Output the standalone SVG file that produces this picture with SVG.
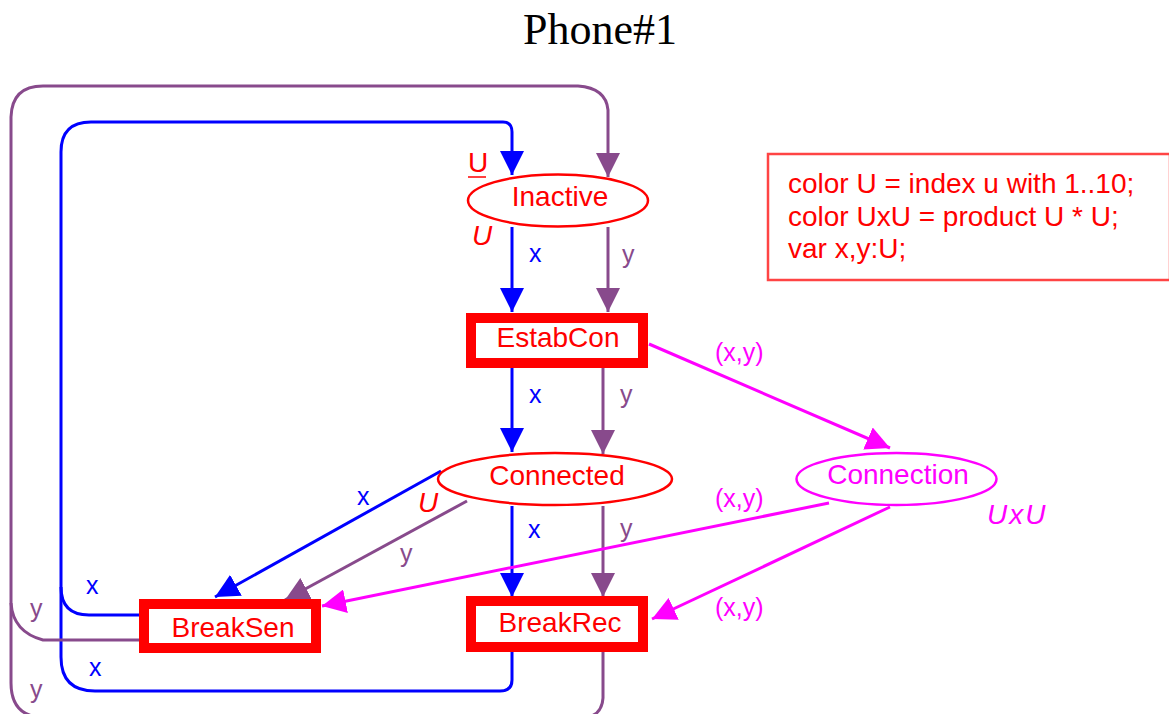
<svg xmlns="http://www.w3.org/2000/svg" width="1169" height="714" viewBox="0 0 1169 714">
<style>
.node text{font-family:"Liberation Sans",Arial,sans-serif;font-size:28px;fill:#ff0000;text-anchor:middle}
.place{fill:#fff;stroke:#ff0000;stroke-width:2.5}
.trans{fill:#fff;stroke:#ff0000;stroke-width:10}
.lbl{font-family:"Liberation Sans",Arial,sans-serif;font-size:25px}
.bl{fill:none;stroke:#0000ff;stroke-width:3}
.pu{fill:none;stroke:#884a8c;stroke-width:3}
.mg{fill:none;stroke:#ff00ff;stroke-width:3}
.tb{fill:#0000ff}.tp{fill:#884a8c}.tm{fill:#ff00ff}
.ty{font-family:"Liberation Sans",Arial,sans-serif;font-size:24px;font-style:italic;fill:#ff0000}
</style>
<defs>
<marker id="ab" markerUnits="userSpaceOnUse" viewBox="0 0 24 24" refX="24" refY="12" markerWidth="24" markerHeight="24" orient="auto"><path d="M0,0 L24,12 L0,24 z" fill="#0000ff"/></marker>
<marker id="ap" markerUnits="userSpaceOnUse" viewBox="0 0 24 24" refX="24" refY="12" markerWidth="24" markerHeight="24" orient="auto"><path d="M0,0 L24,12 L0,24 z" fill="#884a8c"/></marker>
<marker id="am" markerUnits="userSpaceOnUse" viewBox="0 0 24 24" refX="24" refY="12" markerWidth="24" markerHeight="24" orient="auto"><path d="M0,0 L24,12 L0,24 z" fill="#ff00ff"/></marker>
</defs>
<rect width="1169" height="714" fill="#fff"/>
<text x="600" y="44" font-family="'Liberation Serif','Times New Roman',serif" font-size="44" text-anchor="middle" fill="#000">Phone#1</text>

<g id="declarations">
<rect x="768" y="154" width="402" height="126" fill="#fff" stroke="#ff4444" stroke-width="2.5"/>
<text font-family="'Liberation Sans',Arial,sans-serif" font-size="28" fill="#ff0000">
<tspan x="788" y="193">color U = index u with 1..10;</tspan>
<tspan x="788" y="226">color UxU = product U * U;</tspan>
<tspan x="788" y="258">var x,y:U;</tspan>
</text>
</g>

<g id="connectors">
<path class="bl" d="M139,615 H89 Q61,615 61,587 V152 Q61,122 91,122 H503 Q512,122 512,132 V175" marker-end="url(#ab)"/>
<path class="bl" d="M512,652 V680 Q512,691 500,691 H95 Q61,691 61,657 V587"/>
<path class="pu" d="M139,640 H43 Q13,632 11,603 V117 Q12,86 43,86 H578 Q606,88 608,110 V177" marker-end="url(#ap)"/>
<path class="pu" d="M603,652 V698 Q602,714 588,717 H37 Q11,713 11,683 V603"/>
<path class="bl" d="M512,227 V312" marker-end="url(#ab)"/>
<path class="pu" d="M608,227 V312" marker-end="url(#ap)"/>
<path class="bl" d="M512,368 V452" marker-end="url(#ab)"/>
<path class="pu" d="M603,368 V454" marker-end="url(#ap)"/>
<path class="bl" d="M512,506 V597" marker-end="url(#ab)"/>
<path class="pu" d="M603,506 V597" marker-end="url(#ap)"/>
<path class="bl" d="M441,471 L215,597" marker-end="url(#ab)"/>
<path class="pu" d="M467,501 L285,600" marker-end="url(#ap)"/>
<path class="mg" d="M649,344 L890,448" marker-end="url(#am)"/>
<path class="mg" d="M829,503 L322,606" marker-end="url(#am)"/>
<path class="mg" d="M890,507 L652,619" marker-end="url(#am)"/>
<text class="lbl tb" x="529" y="262">x</text>
<text class="lbl tp" x="622" y="263">y</text>
<text class="lbl tb" x="529" y="403">x</text>
<text class="lbl tp" x="620" y="403">y</text>
<text class="lbl tb" x="528" y="538">x</text>
<text class="lbl tp" x="620" y="537">y</text>
<text class="lbl tb" x="357" y="505">x</text>
<text class="lbl tp" x="400" y="562">y</text>
<text class="lbl tb" x="86" y="594">x</text>
<text class="lbl tb" x="89" y="676">x</text>
<text class="lbl tp" x="30" y="617">y</text>
<text class="lbl tp" x="30" y="698">y</text>
<text class="lbl tm" x="715" y="361">(x,y)</text>
<text class="lbl tm" x="715" y="507">(x,y)</text>
<text class="lbl tm" x="715" y="616">(x,y)</text>
</g>

<g id="Inactive" class="node">
<ellipse class="place" cx="558" cy="200.5" rx="90" ry="26"/>
<text x="560" y="206">Inactive</text>
<text class="ty" x="468" y="172" style="font-style:normal;text-anchor:start">U</text>
<line x1="468" y1="177" x2="486" y2="177" stroke="#ff0000" stroke-width="1.5"/>
<text class="ty" x="472" y="245" style="text-anchor:start">U</text>
</g>

<g id="EstabCon" class="node">
<rect class="trans" x="471" y="318" width="172" height="45"/>
<text x="558" y="347">EstabCon</text>
</g>

<g id="Connected" class="node">
<ellipse class="place" cx="555" cy="479" rx="117" ry="26"/>
<text x="557" y="485">Connected</text>
<text class="ty" x="418" y="512" style="text-anchor:start">U</text>
</g>

<g id="Connection" class="node">
<ellipse class="place" cx="896.5" cy="479" rx="100" ry="26" style="stroke:#ff00ff"/>
<text x="898" y="484" style="fill:#ff00ff">Connection</text>
<text class="ty" x="987" y="524" style="fill:#ff00ff;text-anchor:start;letter-spacing:2px">UxU</text>
</g>

<g id="BreakSen" class="node">
<rect class="trans" x="144" y="604" width="172" height="44"/>
<text x="233" y="637">BreakSen</text>
</g>

<g id="BreakRec" class="node">
<rect class="trans" x="471" y="601" width="172" height="46"/>
<text x="560" y="632">BreakRec</text>
</g>
</svg>
